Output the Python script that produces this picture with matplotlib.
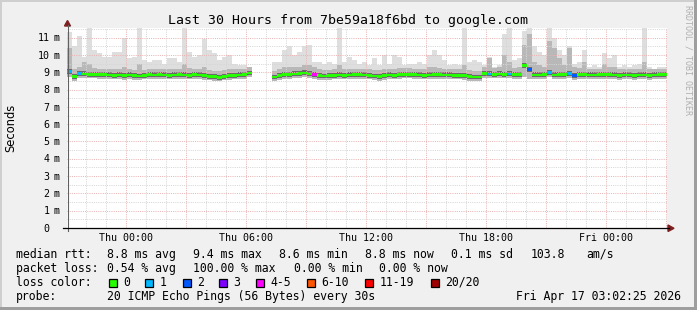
import numpy as np
import matplotlib
matplotlib.use("Agg")
import matplotlib.pyplot as plt
from matplotlib import transforms
from matplotlib.patches import Polygon, Rectangle
from matplotlib.lines import Line2D
from matplotlib.ticker import MultipleLocator

W, H, DPI = 697, 310, 100
nan = np.nan

# ---------------- data ----------------
title = "Last 30 Hours from 7be59a18f6bd to google.com"
ylabel = "Seconds"
credit = "RRDTOOL / TOBI OETIKER"

t_start = -2.96          # hours relative to Thu 00:00
span_hours = 30
bin_hours = 0.25

x_tick_hours = [0, 6, 12, 18, 24]
x_tick_labels = ["Thu 00:00", "Thu 06:00", "Thu 12:00", "Thu 18:00", "Fri 00:00"]
y_tick_values = [0, 1, 2, 3, 4, 5, 6, 7, 8, 9, 10, 11]
y_tick_numbers = ["0", "1", "2", "3", "4", "5", "6", "7", "8", "9", "10", "11"]
y_unit = "m"

median = [
    9.05, 8.75, 8.92, 8.90, 8.88, 8.88, 8.86, 8.86, 8.84, 8.82,
    8.84, 8.80, 8.84, 8.80, 8.78, 8.82, 8.86, 8.84, 8.86, 8.84,
    8.82, 8.84, 8.86, 8.84, 8.82, 8.86, 8.84, 8.80, 8.76, 8.74,
    8.70, 8.76, 8.80, 8.82, 8.84, 8.86, 8.95, nan, nan, nan,
    nan, 8.72, 8.80, 8.86, 8.86, 8.90, 8.92, 8.96, 8.90, 8.86,
    8.80, 8.78, 8.80, 8.82, 8.84, 8.82, 8.84, 8.86, 8.86, 8.84,
    8.82, 8.78, 8.76, 8.80, 8.84, 8.82, 8.86, 8.88, 8.88, 8.86,
    8.84, 8.82, 8.84, 8.86, 8.86, 8.84, 8.84, 8.82, 8.82, 8.80,
    8.76, 8.72, 8.72, 8.92, 8.90, 8.88, 8.90, 8.88, 8.90, 8.86,
    8.86, 9.40, 9.15, 8.84, 8.84, 8.86, 8.98, 8.84, 8.86, 8.86,
    8.92, 8.80, 8.86, 8.86, 8.84, 8.84, 8.86, 8.86, 8.86, 8.84,
    8.82, 8.84, 8.84, 8.82, 8.84, 8.84, 8.82, 8.84, 8.86, 8.86,
]

smoke_max = [
    11.3, 10.5, 11.1, 9.9, 11.6, 10.3, 10.1, 9.9, 9.9, 10.2,
    10.2, 11.0, 9.8, 9.9, 11.6, 9.7, 9.6, 9.7, 9.7, 9.5,
    9.8, 9.8, 9.6, 11.6, 10.2, 9.9, 10.0, 10.9, 10.3, 10.1,
    9.7, 9.9, 10.0, 9.5, 9.4, 9.4, 9.3, nan, nan, nan,
    nan, 9.6, 9.6, 10.3, 10.5, 10.0, 10.2, 10.5, 10.6, 9.6,
    9.6, 9.5, 9.6, 9.5, 11.6, 9.6, 9.9, 9.7, 9.5, 9.6,
    9.4, 9.8, 9.4, 10.0, 9.5, 10.0, 9.9, 9.4, 9.5, 9.5,
    9.6, 9.5, 10.0, 10.3, 10.0, 9.7, 9.4, 9.5, 9.4, 11.6,
    9.6, 9.7, 9.6, 9.4, 9.9, 9.3, 9.4, 11.2, 11.6, 9.7,
    9.8, 11.4, 11.6, 10.5, 10.2, 10.0, 11.6, 11.0, 10.3, 10.0,
    10.5, 9.5, 9.6, 10.3, 9.3, 9.4, 9.3, 10.1, 9.8, 10.0,
    9.3, 9.4, 9.3, 9.4, 9.5, 11.6, 9.3, 9.2, 9.3, 9.3,
]

smoke_upper = [
    10.4, 9.2, 9.3, 9.6, 9.5, 9.25, 9.2, 9.2, 9.2, 9.2,
    9.2, 9.3, 9.2, 9.15, 9.5, 9.15, 9.2, 9.2, 9.2, 9.2,
    9.2, 9.2, 9.2, 9.5, 9.25, 9.2, 9.2, 9.3, 9.15, 9.1,
    9.1, 9.15, 9.2, 9.2, 9.2, 9.2, 9.3, nan, nan, nan,
    nan, 9.1, 9.2, 9.3, 9.3, 9.3, 9.3, 9.4, 9.4, 9.3,
    9.2, 9.15, 9.15, 9.2, 9.4, 9.2, 9.2, 9.2, 9.2, 9.2,
    9.2, 9.15, 9.15, 9.2, 9.2, 9.2, 9.25, 9.25, 9.25, 9.2,
    9.2, 9.2, 9.3, 9.3, 9.25, 9.2, 9.2, 9.2, 9.2, 9.4,
    9.15, 9.1, 9.1, 9.3, 9.8, 9.25, 9.3, 10.0, 9.6, 9.25,
    9.3, 10.6, 11.2, 9.6, 9.4, 9.3, 10.8, 10.4, 9.8, 9.4,
    10.4, 9.3, 9.25, 9.6, 9.2, 9.2, 9.2, 9.5, 9.3, 9.3,
    9.2, 9.2, 9.2, 9.2, 9.2, 9.6, 9.2, 9.2, 9.2, 9.2,
]

smoke_min = [
    8.70, 8.50, 8.65, 8.65, 8.65, 8.65, 8.62, 8.62, 8.60, 8.60,
    8.60, 8.58, 8.60, 8.58, 8.55, 8.60, 8.62, 8.60, 8.62, 8.60,
    8.60, 8.60, 8.62, 8.60, 8.60, 8.62, 8.60, 8.58, 8.55, 8.52,
    8.50, 8.55, 8.58, 8.60, 8.60, 8.62, 8.70, nan, nan, nan,
    nan, 8.50, 8.58, 8.62, 8.62, 8.65, 8.68, 8.70, 8.66, 8.62,
    8.58, 8.55, 8.58, 8.60, 8.60, 8.60, 8.60, 8.62, 8.62, 8.60,
    8.60, 8.55, 8.52, 8.58, 8.60, 8.60, 8.62, 8.65, 8.65, 8.62,
    8.60, 8.60, 8.60, 8.62, 8.62, 8.60, 8.60, 8.60, 8.60, 8.58,
    8.52, 8.48, 8.48, 8.68, 8.66, 8.65, 8.66, 8.65, 8.66, 8.62,
    8.62, 8.70, 8.60, 8.60, 8.60, 8.62, 8.70, 8.60, 8.62, 8.62,
    8.66, 8.55, 8.62, 8.62, 8.60, 8.60, 8.62, 8.62, 8.62, 8.60,
    8.58, 8.60, 8.60, 8.58, 8.60, 8.60, 8.58, 8.60, 8.62, 8.62,
]

loss = [0] * 120
loss[0] = 1
loss[2] = 1
loss[49] = 5
loss[84] = 1
loss[88] = 1
loss[92] = 2
loss[96] = 1
loss[100] = 1
loss[101] = 2

loss_labels = ["0", "1", "2", "3", "4-5", "6-10", "11-19", "20/20"]
loss_upper = [0, 1, 2, 3, 5, 10, 19, 20]
loss_colors = ["#26ff00", "#00b8ff", "#0059ff", "#7e00ff", "#ff00ff",
               "#ff5500", "#ff0000", "#a10000"]

rtt_values = [8.8, 9.4, 8.6, 8.8, 0.1]
rtt_names = ["avg", "max", "min", "now", "sd"]
am_per_s = 103.8
loss_pct_values = [0.54, 100.00, 0.00, 0.00]
loss_pct_names = ["avg", "max", "min", "now"]
probe_text = "20 ICMP Echo Pings (56 Bytes) every 30s"
stamp_text = "Fri Apr 17 03:02:25 2026"

# ---------------- figure ----------------
MONO = "DejaVu Sans Mono"
fig = plt.figure(figsize=(W / DPI, H / DPI), dpi=DPI, facecolor="#f0f0f0")


def fx(x):
    return x / W


def fy(y):
    return 1 - y / H


ax = fig.add_axes([fx(67), fy(228), 600 / W, 200 / H])
ax.set_facecolor("white")
ax.set_xlim(t_start, t_start + span_hours)
ax.set_ylim(0, 11.56)

med = np.array(median)
smax = np.array(smoke_max)
sup = np.array(smoke_upper)
smin = np.array(smoke_min)
n = len(med)
starts = t_start + bin_hours * np.arange(n)

bar_kw = dict(width=bin_hours, align="edge", linewidth=0, antialiased=False)
ax.bar(starts, smax - smin, bottom=smin, color="#dedede", zorder=1, **bar_kw)
ax.bar(starts, sup - smin, bottom=smin, color="#b8b8b8", zorder=1.1, **bar_kw)
ax.bar(starts, np.where(np.isnan(med), nan, 0.28), bottom=med - 0.13,
       color="#6a6a6a", zorder=1.2, **bar_kw)


def loss_color(l):
    for up, c in zip(loss_upper, loss_colors):
        if l <= up:
            return c
    return loss_colors[-1]


med_colors = [loss_color(l) for l in loss]
ax.bar(starts, np.where(np.isnan(med), nan, 0.15), bottom=med - 0.075,
       color=med_colors, zorder=3, **bar_kw)

# grid
ax.xaxis.set_major_locator(MultipleLocator(3))
ax.xaxis.set_minor_locator(MultipleLocator(1))
ax.yaxis.set_major_locator(MultipleLocator(1))
ax.yaxis.set_minor_locator(MultipleLocator(0.5))
ax.set_axisbelow(False)
ax.grid(which="major", color="#eab4b4", linestyle=(0, (1, 1.2)), linewidth=0.72)
ax.grid(which="minor", color="#d6d6d6", linestyle=(0, (1, 1.2)), linewidth=0.72)
ax.tick_params(which="both", length=0, labelbottom=False, labelleft=False)
for s in ax.spines.values():
    s.set_visible(False)

# axes lines and arrows (figure pixel space)
fig.add_artist(Line2D([fx(67.5), fx(67.5)], [fy(231), fy(25)], color="#606060",
                      linewidth=0.8, transform=fig.transFigure))
fig.add_artist(Line2D([fx(63), fx(669)], [fy(228.3), fy(228.3)], color="black",
                      linewidth=0.9, transform=fig.transFigure))
fig.add_artist(Polygon([(fx(64.5), fy(26)), (fx(70.5), fy(26)), (fx(67.5), fy(20.5))],
                       closed=True, color="#7f1f1f", transform=fig.transFigure))
fig.add_artist(Polygon([(fx(668), fy(225)), (fx(668), fy(231.5)), (fx(674), fy(228.3))],
                       closed=True, color="#7f1f1f", transform=fig.transFigure))

# tick labels
xtr = transforms.blended_transform_factory(ax.transData, fig.transFigure)
for h, lab in zip(x_tick_hours, x_tick_labels):
    ax.text(h, fy(240.7), lab, transform=xtr, ha="center", va="baseline",
            fontsize=7.2, family=MONO)
ytr = transforms.offset_copy(
    transforms.blended_transform_factory(fig.transFigure, ax.transData),
    fig=fig, x=0, y=-3.7, units="dots")
for v, num in zip(y_tick_values, y_tick_numbers):
    ax.text(fx(49.5), v, num, transform=ytr, ha="right", va="baseline",
            fontsize=7.2, family=MONO)
    if v != 0:
        ax.text(fx(54), v, y_unit, transform=ytr, ha="left", va="baseline",
                fontsize=7.2, family=MONO)

# title, y label, credit
fig.text(fx(348), fy(24), title, ha="center", va="baseline", fontsize=9.55, family=MONO)
fig.text(fx(11), fy(127.5), ylabel, rotation=90, ha="center", va="center",
         fontsize=8.3, family="DejaVu Sans")
fig.text(fx(688), fy(60), credit, rotation=270, ha="center", va="center",
         fontsize=6, family=MONO, color="#b0b0b0")

# legend
LF = 8.3
def lt(x, y, s, ha="left"):
    fig.text(fx(x), fy(y), s, ha=ha, va="baseline", fontsize=LF, family=MONO)

y1, y2, y3, y4 = 257.7, 271.7, 285.7, 299.6
lt(16, y1, "median rtt:")
for x, v, nm in zip([107.3, 193.3, 279.4, 365.4, 451.4], rtt_values, rtt_names):
    lt(x, y1, f"{v:.1f} ms {nm}")
lt(530.7, y1, f"{am_per_s:.1f}")
lt(586, y1, "am/s")

lt(16, y2, "packet loss:")
for x, v, nm in zip([107.3, 193.3, 293.6, 379.3], loss_pct_values, loss_pct_names):
    lt(x, y2, f"{v:.2f} % {nm}")

lt(16, y3, "loss color:")
box_x = [108.7, 145.3, 182.7, 219.3, 256.0, 306.7, 365.3, 430.7]
for bx, lab, c in zip(box_x, loss_labels, loss_colors):
    fig.add_artist(Rectangle((fx(bx), fy(286.7)), 8 / W, 8 / H, facecolor=c,
                             edgecolor="black", linewidth=0.9,
                             transform=fig.transFigure))
    lt(bx + 14.3, y3, lab)

lt(16, y4, "probe:")
lt(107.3, y4, probe_text)
lt(680.5, y4, stamp_text, ha="right")

# border shading
for (x, y, w, h, c) in [(0, 0, 697, 2, "#cfcfcf"), (0, 0, 2, 310, "#cfcfcf"),
                        (0, 307, 697, 3, "#9e9e9e"), (694, 0, 3, 310, "#9e9e9e")]:
    fig.add_artist(Rectangle((fx(x), fy(y + h)), w / W, h / H, facecolor=c,
                             edgecolor="none", transform=fig.transFigure))

fig.savefig("out.png", dpi=DPI, facecolor=fig.get_facecolor())
